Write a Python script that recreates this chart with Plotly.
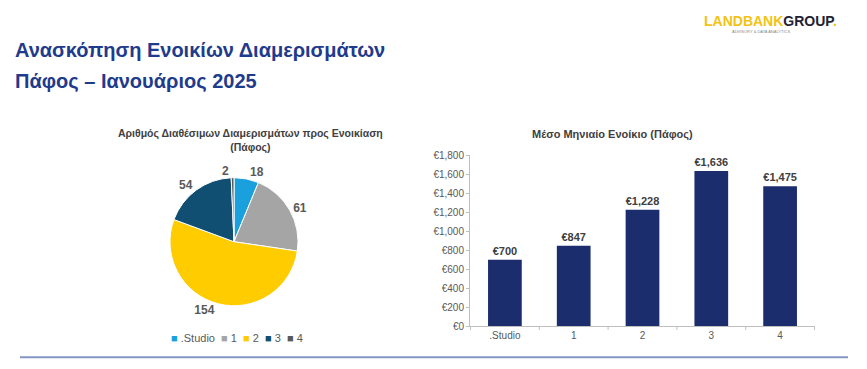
import plotly.graph_objects as go

# Data
pie_labels = [".Studio", "1", "2", "3", "4"]
pie_values = [18, 61, 154, 54, 2]
pie_colors = ["#1aa0dc", "#a5a5a5", "#ffcc00", "#104e72", "#595959"]

bar_categories = [".Studio", "1", "2", "3", "4"]
bar_values = [700, 847, 1228, 1636, 1475]
bar_text = ["€700", "€847", "€1,228", "€1,636", "€1,475"]
y_ticks = [0, 200, 400, 600, 800, 1000, 1200, 1400, 1600, 1800]
y_tick_labels = ["€0", "€200", "€400", "€600", "€800", "€1,000", "€1,200",
                 "€1,400", "€1,600", "€1,800"]

W, H = 867, 369
TXT = "#595959"
FONT = "Liberation Sans, Arial"


def px(x):
    return x / W


def py(y):
    return (H - y) / H


fig = go.Figure()

fig.add_trace(go.Pie(
    labels=pie_labels, values=pie_values,
    marker=dict(colors=pie_colors, line=dict(color="white", width=1)),
    sort=False, direction="clockwise", rotation=0,
    textinfo="value", textposition="outside",
    textfont=dict(family=FONT, size=12, color=TXT, weight="bold"),
    domain=dict(x=[px(168), px(300)], y=[py(310), py(178)]),
    showlegend=False, hoverinfo="label+value",
))

fig.add_trace(go.Bar(
    x=bar_categories, y=bar_values,
    marker=dict(color="#1c2d6e", line=dict(width=0)),
    width=0.49, text=bar_text, textposition="outside",
    textfont=dict(family=FONT, size=11, color="#404040", weight="bold"),
    cliponaxis=False, showlegend=False, xaxis="x", yaxis="y",
))

fig.update_layout(
    width=W, height=H,
    margin=dict(l=0, r=0, t=0, b=0),
    paper_bgcolor="white", plot_bgcolor="white",
    font=dict(family=FONT, color=TXT),
    showlegend=False,
    xaxis=dict(domain=[px(470), px(815)], showgrid=False, showline=True,
               linecolor="#bfbfbf", linewidth=1, ticks="",
               tickfont=dict(size=10, color=TXT), fixedrange=True),
    yaxis=dict(domain=[py(331), py(155)], range=[0, 1800],
               tickmode="array", tickvals=y_ticks, ticktext=y_tick_labels,
               showgrid=False, showline=True, linecolor="#bfbfbf",
               ticks="outside", ticklen=3, tickcolor="#bfbfbf",
               tickfont=dict(size=10, color=TXT), zeroline=False,
               fixedrange=True),
)

# category separators on x axis
for i in range(len(bar_categories) + 1):
    fig.add_shape(type="line", xref="x", yref="paper",
                  x0=i - 0.5, x1=i - 0.5, y0=py(331), y1=py(335),
                  line=dict(color="#bfbfbf", width=1))

# compact pie legend built from the pie's labels and colours
legend_html = "&nbsp;&nbsp;".join(
    f"<span style='color:{c}'>■</span> {lab}" for lab, c in zip(pie_labels, pie_colors)
)
fig.add_annotation(x=px(237), y=py(343), xref="paper", yref="paper",
                   xanchor="center", yanchor="middle", showarrow=False,
                   text=legend_html,
                   font=dict(family=FONT, size=11, color=TXT))

title_color = "#1f3b8c"
fig.add_annotation(x=px(13), y=py(46), xref="paper", yref="paper",
                   xanchor="left", yanchor="middle", showarrow=False,
                   text="<b>Ανασκόπηση Ενοικίων Διαμερισμάτων</b>",
                   font=dict(family=FONT, size=20, color=title_color))
fig.add_annotation(x=px(13), y=py(78), xref="paper", yref="paper",
                   xanchor="left", yanchor="middle", showarrow=False,
                   text="<b>Πάφος – Ιανουάριος 2025</b>",
                   font=dict(family=FONT, size=20, color=title_color))

fig.add_annotation(x=px(250), y=py(140), xref="paper", yref="paper",
                   xanchor="center", yanchor="middle", showarrow=False,
                   text="<b>Αριθμός Διαθέσιμων Διαμερισμάτων προς Ενοικίαση<br>(Πάφος)</b>",
                   font=dict(family=FONT, size=10.5, color="#404040"))
fig.add_annotation(x=px(612), y=py(133), xref="paper", yref="paper",
                   xanchor="center", yanchor="middle", showarrow=False,
                   text="<b>Μέσο Μηνιαίο Ενοίκιο (Πάφος)</b>",
                   font=dict(family=FONT, size=11, color="#404040"))

# logo text
fig.add_annotation(x=px(770), y=py(16), xref="paper", yref="paper",
                   xanchor="center", yanchor="middle", showarrow=False,
                   text="<b><span style='color:#f2c314'>LANDBANK</span><span style='color:#222233'>GROUP</span><span style='color:#f2c314'>.</span></b>",
                   font=dict(family=FONT, size=14))
fig.add_annotation(x=px(761), y=py(27), xref="paper", yref="paper",
                   xanchor="center", yanchor="middle", showarrow=False,
                   text="ADVISORY & DATA ANALYTICS",
                   font=dict(family=FONT, size=4, color="#888888"))

# bottom rule
fig.add_shape(type="line", xref="paper", yref="paper",
              x0=px(20), x1=px(848), y0=py(363), y1=py(363),
              line=dict(color="#8496c4", width=2))

fig.write_html("out.html",
               config={"displayModeBar": False},
               post_script="document.body.style.margin='0';document.body.style.overflow='hidden';")
